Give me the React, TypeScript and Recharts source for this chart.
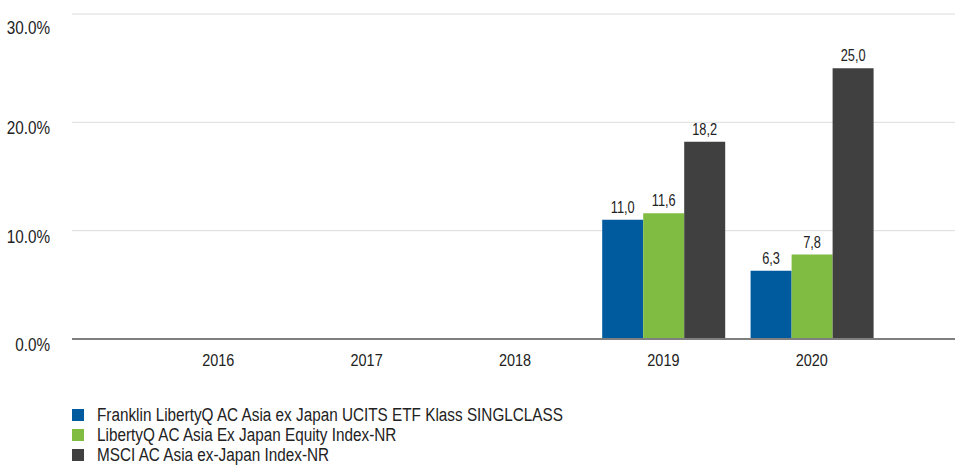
import React from 'react';
import { BarChart, Bar, XAxis, YAxis, CartesianGrid, LabelList } from 'recharts';

const years = ['2016', '2017', '2018', '2019', '2020'];
const fundValues = [null, null, null, 11.0, 6.3];
const libertyIndexValues = [null, null, null, 11.6, 7.8];
const msciValues = [null, null, null, 18.2, 25.0];
const yTicks = [0, 10, 20, 30];

const seriesNames = [
  'Franklin LibertyQ AC Asia ex Japan UCITS ETF Klass SINGLCLASS',
  'LibertyQ AC Asia Ex Japan Equity Index-NR',
  'MSCI AC Asia ex-Japan Index-NR',
];
const colors = ['#005a9e', '#80bc41', '#404040'];

const data = years.map((year, i) => ({
  year,
  fund: fundValues[i],
  liberty: libertyIndexValues[i],
  msci: msciValues[i],
}));

// the original uses a narrow Arial; squeeze Liberation Sans horizontally
const NARROW = 0.85;

const fmt = (v: any) => (v == null ? '' : Number(v).toFixed(1).replace('.', ','));

const YTick = (props: any) => {
  const { x, y, payload } = props;
  const dy = y < 20 ? 20 : 12;
  return (
    <text transform={`translate(${x} ${y + dy}) scale(${NARROW} 1)`} textAnchor="end" fontSize={18} fill="#222">
      {payload.value.toFixed(1)}%
    </text>
  );
};

const XTick = (props: any) => {
  const { x, y, payload } = props;
  return (
    <text transform={`translate(${x} ${y + 14}) scale(${NARROW} 1)`} textAnchor="middle" fontSize={17} fill="#222">
      {payload.value}
    </text>
  );
};

const BarLabel = (props: any) => {
  const { x, y, width, value } = props;
  if (value == null) return null;
  return (
    <text transform={`translate(${x + width / 2} ${y - 7}) scale(0.8 1)`} textAnchor="middle" fontSize={16} fill="#222">
      {fmt(value)}
    </text>
  );
};

export default function App() {
  return (
    <div style={{ position: 'absolute', left: 0, top: 0, width: 956, height: 465, background: '#fff', fontFamily: '"Liberation Sans", Arial, sans-serif' }}>
      <BarChart
        width={956}
        height={390}
        data={data}
        margin={{ top: 14, right: 1, left: 0, bottom: 21 }}
        barCategoryGap={13}
        barGap={0}
      >
        <CartesianGrid vertical={false} stroke="#dcdcdc" />
        <XAxis
          dataKey="year"
          height={30}
          tickSize={0}
          tickMargin={13}
          axisLine={{ stroke: '#7f7f7f', strokeWidth: 2 }}
          tick={<XTick />}
          padding={{ left: 72, right: 69 }}
        />
        <YAxis
          width={72}
          domain={[0, 30]}
          ticks={yTicks}
          tickSize={0}
          tickMargin={22}
          axisLine={false}
          tick={<YTick />}
        />
        <Bar dataKey="fund" name={seriesNames[0]} fill={colors[0]} isAnimationActive={false}>
          <LabelList dataKey="fund" content={<BarLabel />} />
        </Bar>
        <Bar dataKey="liberty" name={seriesNames[1]} fill={colors[1]} isAnimationActive={false}>
          <LabelList dataKey="liberty" content={<BarLabel />} />
        </Bar>
        <Bar dataKey="msci" name={seriesNames[2]} fill={colors[2]} isAnimationActive={false}>
          <LabelList dataKey="msci" content={<BarLabel />} />
        </Bar>
      </BarChart>
      <div style={{ position: 'absolute', left: 72, top: 405, fontSize: 18, color: '#222' }}>
        {seriesNames.map((name, i) => (
          <div key={name} style={{ display: 'flex', alignItems: 'center', height: 20 }}>
            <span style={{ width: 12, height: 12, background: colors[i], display: 'inline-block', marginRight: 13, flexShrink: 0 }} />
            <span style={{ display: 'inline-block', whiteSpace: 'nowrap', transform: `scaleX(${NARROW})`, transformOrigin: 'left center' }}>{name}</span>
          </div>
        ))}
      </div>
    </div>
  );
}
